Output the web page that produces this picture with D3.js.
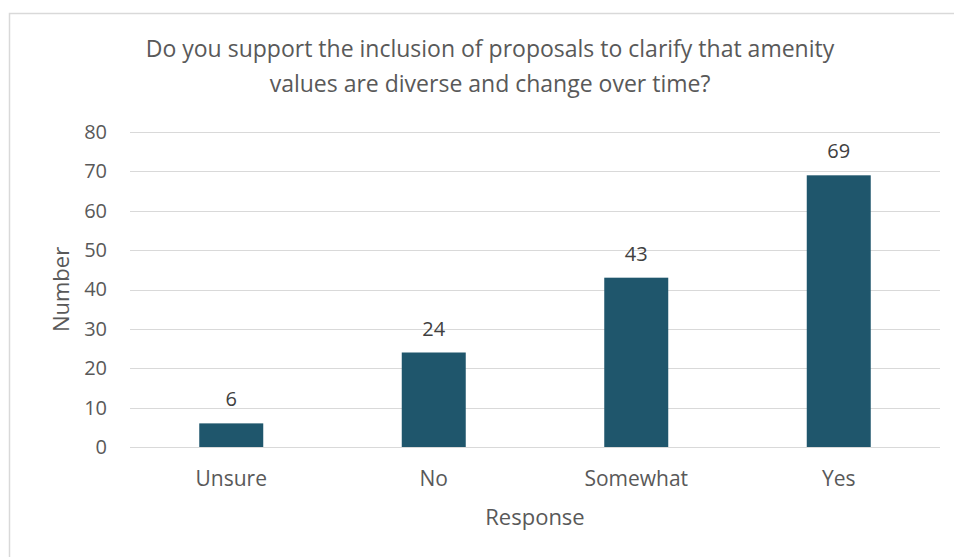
<!DOCTYPE html>
<html>
<head>
<meta charset="utf-8">
<script src="https://cdn.jsdelivr.net/npm/d3@7"></script>
<style>
  html, body { margin: 0; padding: 0; background: #fff; }
  svg { display: block; font-family: "Open Sans", "Noto Sans", sans-serif; }
</style>
</head>
<body>
<svg id="chart" width="954" height="557"></svg>
<script>
// Survey responses
const categories = ["Unsure", "No", "Somewhat", "Yes"];
const counts = [6, 24, 43, 69];
const yTicks = [0, 10, 20, 30, 40, 50, 60, 70, 80];
const titleLines = [
  "Do you support the inclusion of proposals to clarify that amenity",
  "values are diverse and change over time?"
];
const xTitle = "Response";
const yTitle = "Number";

const svg = d3.select("#chart");
const textColor = "#595959";
const barColor = "#1f566c";
const gridColor = "#d9d9d9";

// chart frame (left and top edges visible)
svg.append("path")
  .attr("d", "M9.5,557 V13.5 H954")
  .attr("fill", "none")
  .attr("stroke", gridColor)
  .attr("stroke-width", 1.5);

const plot = { left: 130, right: 940, top: 132, bottom: 447 };

const x = d3.scaleBand()
  .domain(categories)
  .range([plot.left, plot.right])
  .paddingInner(0.684)
  .paddingOuter(0.342);

const y = d3.scaleLinear()
  .domain([0, 80])
  .range([plot.bottom, plot.top]);

// gridlines
svg.append("g")
  .selectAll("line")
  .data(yTicks)
  .join("line")
  .attr("x1", plot.left)
  .attr("x2", plot.right)
  .attr("y1", d => Math.round(y(d)) + 0.5)
  .attr("y2", d => Math.round(y(d)) + 0.5)
  .attr("stroke", gridColor)
  .attr("stroke-width", 1.2);

// y axis labels
const yAxis = d3.axisLeft(y).tickValues(yTicks).tickSize(0).tickPadding(0);
svg.append("g")
  .attr("transform", `translate(${plot.left - 23},0)`)
  .call(yAxis)
  .call(g => g.select(".domain").remove())
  .call(g => g.selectAll("text")
    .attr("fill", textColor)
    .style("font-size", "20px")
    .style("font-family", "'Open Sans', sans-serif"));

// bars
svg.append("g")
  .selectAll("rect")
  .data(counts)
  .join("rect")
  .attr("x", (d, i) => x(categories[i]))
  .attr("width", x.bandwidth())
  .attr("y", d => y(d))
  .attr("height", d => y(0) - y(d))
  .attr("fill", barColor);

// value labels
svg.append("g")
  .selectAll("text")
  .data(counts)
  .join("text")
  .attr("x", (d, i) => x(categories[i]) + x.bandwidth() / 2)
  .attr("y", d => y(d) - 17)
  .attr("text-anchor", "middle")
  .attr("fill", "#404040")
  .style("font-size", "20px")
  .text(d => d);

// x axis labels
const xAxis = d3.axisBottom(x).tickSize(0).tickPadding(0);
svg.append("g")
  .attr("transform", `translate(0,${plot.bottom})`)
  .call(xAxis)
  .call(g => g.select(".domain").remove())
  .call(g => g.selectAll("text")
    .attr("fill", textColor)
    .attr("y", 39)
    .attr("dy", 0)
    .style("font-size", "21px")
    .style("font-family", "'Open Sans', sans-serif"));

// title
svg.append("g")
  .selectAll("text")
  .data(titleLines)
  .join("text")
  .attr("x", 490)
  .attr("y", (d, i) => 57 + i * 35)
  .attr("text-anchor", "middle")
  .attr("fill", textColor)
  .style("font-size", "23px")
  .text(d => d);

// axis titles
svg.append("text")
  .attr("x", (plot.left + plot.right) / 2)
  .attr("y", 525)
  .attr("text-anchor", "middle")
  .attr("fill", textColor)
  .style("font-size", "22px")
  .text(xTitle);

svg.append("text")
  .attr("transform", `translate(69,${(plot.top + plot.bottom) / 2}) rotate(-90)`)
  .attr("text-anchor", "middle")
  .attr("fill", textColor)
  .style("font-size", "22px")
  .text(yTitle);
</script>
</body>
</html>
